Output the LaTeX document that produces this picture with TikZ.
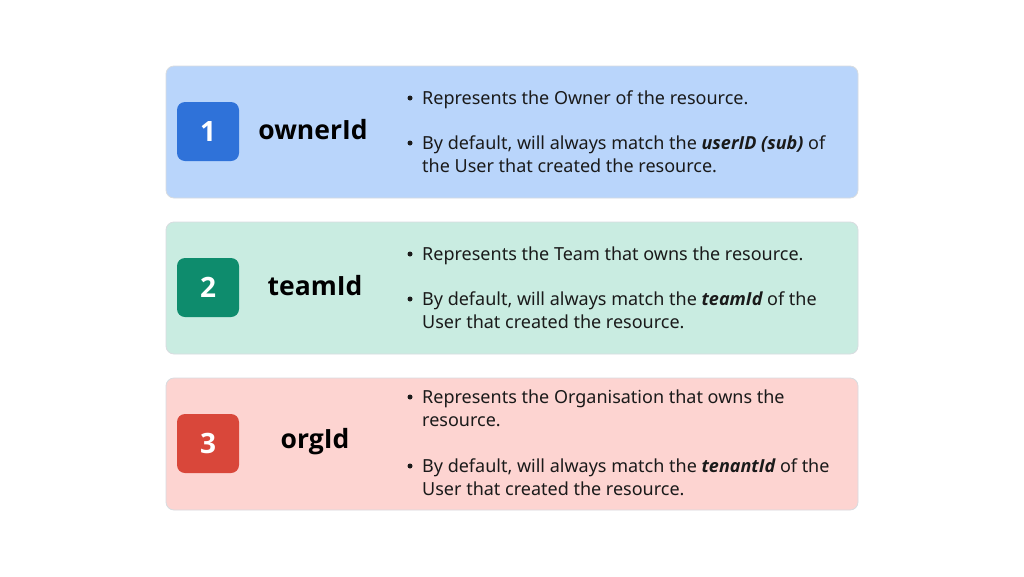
\documentclass[tikz,border=0pt]{standalone}
\usepackage{fontspec}
\setmainfont{Noto Sans}
\newfontfamily\headfont{Open Sans}
\newcommand{\embi}[1]{{\headfont\bfseries\itshape #1}}
\definecolor{bluebg}{HTML}{B9D5FB}
\definecolor{greenbg}{HTML}{C9ECE1}
\definecolor{pinkbg}{HTML}{FDD4D1}
\definecolor{edgegray}{HTML}{D8DCE0}
\definecolor{bluesq}{HTML}{2F72D9}
\definecolor{greensq}{HTML}{0E8C6D}
\definecolor{redsq}{HTML}{D9473A}
\definecolor{txt}{HTML}{1A1A1A}
\tikzset{
  panel/.style={draw=edgegray, line width=0.8pt, rounded corners=8pt, minimum width=692pt, minimum height=132pt, inner sep=0pt},
  numsq/.style={rounded corners=8pt, minimum width=62pt, minimum height=59pt, inner sep=0pt, text=white, font=\headfont\bfseries\fontsize{28}{30}\selectfont},
  head/.style={font=\headfont\bfseries\fontsize{26.5}{30}\selectfont, text=black, inner sep=0pt},
  bul/.style={anchor=base west, align=left, inner sep=0pt, text=txt, font=\fontsize{18}{23}\selectfont},
  dot/.style={circle, fill=txt, inner sep=0pt, minimum size=5pt}
}
\begin{document}
\begin{tikzpicture}[x=1pt,y=-1pt]
\useasboundingbox[fill=white] (0,0) rectangle (1024,576);
% panels
\node[panel, fill=bluebg] (p1) at (512,132) {};
\node[panel, fill=greenbg] (p2) at (512,288) {};
\node[panel, fill=pinkbg] (p3) at (512,444) {};
% number squares
\node[numsq, fill=bluesq] (n1) at (208,131.5) {1};
\node[numsq, fill=greensq] (n2) at (208,287.5) {2};
\node[numsq, fill=redsq] (n3) at (208,443.5) {3};
% headings
\node[head] (h1) at (313,130) {ownerId};
\node[head] (h2) at (315,286) {teamId};
\node[head] (h3) at (315,442) {orgId};
% bullets panel 1 (base anchor = baseline of last line)
\node[dot] (d11) at (410,98) {};
\node[bul] (b11) at (422,104) {Represents the Owner of the resource.};
\node[dot] (d12) at (410,143) {};
\node[bul] (b12) at (422,172) {By default, will always match the \embi{userID (sub)} of\\the User that created the resource.};
% bullets panel 2
\node[dot] (d21) at (410,254) {};
\node[bul] (b21) at (422,260) {Represents the Team that owns the resource.};
\node[dot] (d22) at (410,299) {};
\node[bul] (b22) at (422,328) {By default, will always match the \embi{teamId} of the\\User that created the resource.};
% bullets panel 3
\node[dot] (d31) at (410,397) {};
\node[bul] (b31) at (422,426) {Represents the Organisation that owns the\\resource.};
\node[dot] (d32) at (410,466) {};
\node[bul] (b32) at (422,495) {By default, will always match the \embi{tenantId} of the\\User that created the resource.};
\end{tikzpicture}
\end{document}
